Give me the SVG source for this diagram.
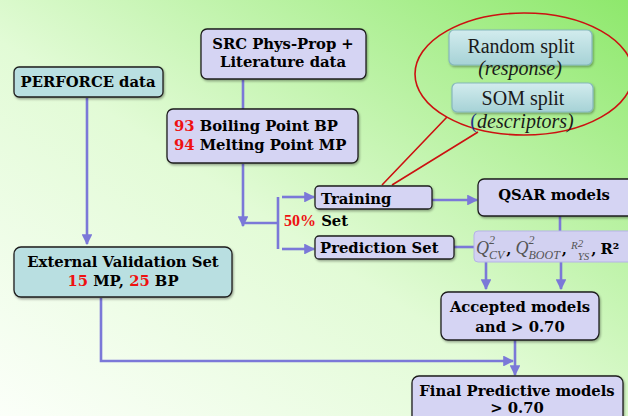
<svg xmlns="http://www.w3.org/2000/svg" width="628" height="416" viewBox="0 0 628 416">
<defs>
  <linearGradient id="bg" x1="0" y1="1" x2="1" y2="0">
    <stop offset="0" stop-color="#fbfff9"/>
    <stop offset="0.45" stop-color="#e2fbd6"/>
    <stop offset="1" stop-color="#8ee86c"/>
  </linearGradient>
  <linearGradient id="teal" x1="0" y1="0" x2="0" y2="1">
    <stop offset="0" stop-color="#d2ecee"/>
    <stop offset="1" stop-color="#a6d2d6"/>
  </linearGradient>
  <filter id="sh" x="-10%" y="-10%" width="120%" height="130%">
    <feDropShadow dx="1" dy="1.5" stdDeviation="1.2" flood-color="#000" flood-opacity="0.35"/>
  </filter>
  <marker id="ah" viewBox="0 0 10 10" refX="9" refY="5" markerWidth="4.2" markerHeight="4.2" orient="auto">
    <path d="M0,0 L10,5 L0,10 z" fill="#7b78d8"/>
  </marker>
  <style>
    .bx{stroke:#1e1e1e;stroke-width:1.3;filter:url(#sh)}
    .lav{fill:#d5d4f3}
    .tl{fill:#b9dfe1}
    .t{font-family:"DejaVu Serif","Liberation Serif",serif;font-weight:bold;font-size:14.8px;fill:#000}
    .r{fill:#ee1111}
    .c{stroke:#7b78d8;stroke-width:2.6;fill:none}
    .sp{font-family:"Liberation Serif",serif;font-size:20px;fill:#1a1a1a}
    .m{font-family:"Liberation Serif",serif;font-style:italic;fill:#555}
  </style>
</defs>
<rect width="628" height="416" fill="url(#bg)"/>

<g id="connectors">
  <path class="c" d="M87,98 V244" marker-end="url(#ah)"/>
  <path class="c" d="M243,80 V109"/>
  <path class="c" d="M243,164 V226" marker-end="url(#ah)"/>
  <path class="c" d="M243,223 H278"/>
  <path class="c" d="M278,197 V249"/>
  <path class="c" d="M282,197 H314" marker-end="url(#ah)"/>
  <path class="c" d="M282,249 H314" marker-end="url(#ah)"/>
  <path class="c" d="M432,200 H477" marker-end="url(#ah)"/>
  <path class="c" d="M454,247 H475"/>
  <path class="c" d="M560,216 V231"/>
  <path class="c" d="M486,262 V289" marker-end="url(#ah)"/>
  <path class="c" d="M561,262 V289" marker-end="url(#ah)"/>
  <path class="c" d="M515,340 V375" marker-end="url(#ah)"/>
  <path class="c" d="M101,298 V361 H513" marker-end="url(#ah)"/>
</g>

<g id="callout">
  <path d="M447,117 L382,185 M392,185 L478,132" stroke="#cc1111" stroke-width="1.6" fill="none"/>
  <ellipse cx="524" cy="74" rx="109" ry="61" fill="none" stroke="#cc1111" stroke-width="1.6"/>
</g>

<g id="random">
  <rect x="449" y="30" width="143" height="35" rx="5" fill="url(#teal)" stroke="#86b8bc" stroke-width="1.2" filter="url(#sh)"/>
  <text class="sp" x="521" y="53" text-anchor="middle">Random split</text>
  <text class="sp" x="520" y="75" text-anchor="middle" font-style="italic" font-size="19">(response)</text>
</g>
<g id="som">
  <rect x="452" y="83" width="141" height="29" rx="5" fill="url(#teal)" stroke="#86b8bc" stroke-width="1.2" filter="url(#sh)"/>
  <text class="sp" x="523" y="105" text-anchor="middle">SOM split</text>
  <text class="sp" x="522" y="128" text-anchor="middle" font-size="19"><tspan fill="#223388">(</tspan><tspan font-style="italic">descriptors)</tspan></text>
</g>

<g id="perforce">
  <rect class="bx tl" x="14" y="67" width="149" height="30" rx="5"/>
  <text class="t" x="88" y="87" text-anchor="middle">PERFORCE data</text>
</g>
<g id="src">
  <rect class="bx lav" x="201" y="29" width="165" height="50" rx="6"/>
  <text class="t" x="283" y="49" text-anchor="middle">SRC Phys-Prop +</text>
  <text class="t" x="283" y="67" text-anchor="middle">Literature data</text>
</g>
<g id="bpmp">
  <rect class="bx lav" x="167" y="109" width="191" height="54" rx="6"/>
  <text class="t" x="174" y="131"><tspan class="r">93</tspan> Boiling Point BP</text>
  <text class="t" x="174" y="150"><tspan class="r">94</tspan> Melting Point MP</text>
</g>
<g id="external">
  <rect class="bx tl" x="14" y="247" width="218" height="50" rx="7"/>
  <text class="t" x="123" y="267" text-anchor="middle">External Validation Set</text>
  <text class="t" x="123" y="286" text-anchor="middle"><tspan class="r">15</tspan> MP, <tspan class="r">25</tspan> BP</text>
</g>
<g id="training">
  <rect class="bx lav" x="315" y="186" width="117" height="23" rx="4"/>
  <text class="t" x="321" y="204">Training</text>
</g>
<g id="setlabel">
  <text class="t" x="284" y="226"><tspan fill="#ee1111" font-family="Liberation Serif" font-size="16">50%</tspan> Set</text>
</g>
<g id="prediction">
  <rect class="bx lav" x="315" y="236" width="139" height="23" rx="4"/>
  <text class="t" x="320" y="253">Prediction Set</text>
</g>
<g id="qsar">
  <rect class="bx lav" x="478" y="179" width="160" height="37" rx="6"/>
  <text class="t" x="554" y="200" text-anchor="middle">QSAR models</text>
</g>
<g id="metrics">
  <rect x="474" y="231" width="160" height="31" rx="4" fill="#d2d1f1" stroke="#b5b3e6" stroke-width="1"/>
  <text x="476" y="254"><tspan class="m" font-size="18">Q</tspan><tspan class="m" font-size="12" dy="-10">2</tspan><tspan class="m" font-size="12" dx="-6" dy="15">CV</tspan><tspan class="t" dx="2" dy="-5">,</tspan><tspan class="m" font-size="18" dx="4">Q</tspan><tspan class="m" font-size="12" dy="-10">2</tspan><tspan class="m" font-size="12" dx="-6" dy="15">BOOT</tspan><tspan class="t" dx="2" dy="-5">,</tspan><tspan class="m" font-size="11" dx="4" dy="-5">R</tspan><tspan class="m" font-size="11" dy="-2">2</tspan><tspan class="m" font-size="11" dx="-5.5" dy="13">YS</tspan><tspan class="t" dx="2" dy="-6">,</tspan><tspan class="t" dx="4">R²</tspan></text>
</g>
<g id="accepted">
  <rect class="bx lav" x="441" y="292" width="158" height="48" rx="7"/>
  <text class="t" x="520" y="312" text-anchor="middle">Accepted models</text>
  <text class="t" x="520" y="332" text-anchor="middle">and &gt; 0.70</text>
</g>
<g id="final">
  <rect class="bx lav" x="412" y="376" width="211" height="50" rx="7"/>
  <text class="t" x="517" y="396" text-anchor="middle">Final Predictive models</text>
  <text class="t" x="517" y="413" text-anchor="middle">&gt; 0.70</text>
</g>
</svg>
